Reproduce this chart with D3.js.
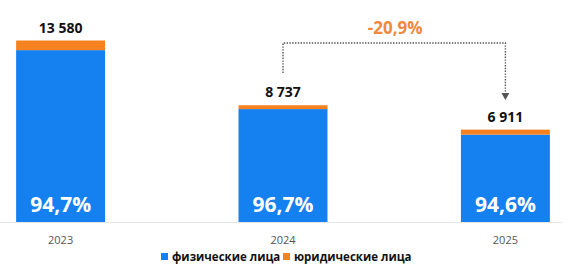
<!DOCTYPE html>
<html>
<head>
<meta charset="utf-8">
<script src="https://cdn.jsdelivr.net/npm/d3@7"></script>
<style>
  body { margin: 0; background: #fff; }
  svg { font-family: "Open Sans", sans-serif; }
</style>
</head>
<body>
<svg id="chart"></svg>
<script>
var years = ["2023", "2024", "2025"];
var totals = [13580, 8737, 6911];
var physShare = [94.7, 96.7, 94.6];
var totalLabels = ["13 580", "8 737", "6 911"];
var shareLabels = ["94,7%", "96,7%", "94,6%"];
var seriesNames = ["физические лица", "юридические лица"];
var changeLabel = "-20,9%";

var blue = "#1580f0";
var orange = "#f5821f";

var width = 571, height = 272;
var baseY = 222;

var svg = d3.select("#chart")
  .attr("width", width)
  .attr("height", height);

var x = d3.scaleBand()
  .domain(years)
  .range([5, 561])
  .paddingInner(0.6)
  .paddingOuter(0.05);

var y = d3.scaleLinear()
  .domain([0, 13580])
  .range([baseY, 40.5]);

var data = years.map(function(yr, i) {
  var phys = totals[i] * physShare[i] / 100;
  return { year: yr, total: totals[i], phys: phys, jur: totals[i] - phys,
           totalLabel: totalLabels[i], shareLabel: shareLabels[i] };
});

// baseline
svg.append("line")
  .attr("x1", 0).attr("x2", 562)
  .attr("y1", baseY + 0.5).attr("y2", baseY + 0.5)
  .attr("stroke", "#e6e6e6");

// physical persons
svg.selectAll(".bar-phys")
  .data(data)
  .enter().append("rect")
  .attr("class", "bar-phys")
  .attr("x", function(d) { return x(d.year); })
  .attr("width", x.bandwidth())
  .attr("y", function(d) { return y(d.phys); })
  .attr("height", function(d) { return baseY - y(d.phys); })
  .attr("fill", blue);

// legal entities
svg.selectAll(".bar-jur")
  .data(data)
  .enter().append("rect")
  .attr("class", "bar-jur")
  .attr("x", function(d) { return x(d.year); })
  .attr("width", x.bandwidth())
  .attr("y", function(d) { return y(d.total); })
  .attr("height", function(d) { return y(d.phys) - y(d.total); })
  .attr("fill", orange);

// totals above bars
svg.selectAll(".total")
  .data(data)
  .enter().append("text")
  .attr("class", "total")
  .attr("x", function(d) { return x(d.year) + x.bandwidth() / 2; })
  .attr("y", function(d) { return y(d.total) - 8; })
  .attr("text-anchor", "middle")
  .attr("font-size", 14)
  .attr("font-weight", "bold")
  .attr("fill", "#111")
  .text(function(d) { return d.totalLabel; });

// share inside bars
svg.selectAll(".share")
  .data(data)
  .enter().append("text")
  .attr("class", "share")
  .attr("x", function(d) { return x(d.year) + x.bandwidth() / 2; })
  .attr("y", 212)
  .attr("text-anchor", "middle")
  .attr("font-size", 21)
  .attr("font-weight", "bold")
  .attr("fill", "#fff")
  .text(function(d) { return d.shareLabel; });

// year axis
var xAxis = d3.axisBottom(x).tickSize(0).tickPadding(14);
var ax = svg.append("g")
  .attr("transform", "translate(0," + baseY + ")")
  .call(xAxis);
ax.select(".domain").remove();
ax.selectAll("text")
  .attr("font-family", "Open Sans, sans-serif")
  .attr("font-size", 11)
  .attr("fill", "#555");

// change arrow 2024 -> 2025
var x1 = x("2024") + x.bandwidth() / 2;
var x2 = x("2025") + x.bandwidth() / 2;
var topY = 43;
svg.append("path")
  .attr("d", "M" + x1 + "," + 73 + "V" + topY + "H" + x2 + "V" + 94)
  .attr("fill", "none")
  .attr("stroke", "#555")
  .attr("stroke-width", 1.4)
  .attr("stroke-dasharray", "1.4,1.4");
svg.append("path")
  .attr("d", "M" + (x2 - 4) + ",93 L" + (x2 + 4) + ",93 L" + x2 + ",100 Z")
  .attr("fill", "#555");
svg.append("text")
  .attr("x", (x1 + x2) / 2 + 1)
  .attr("y", 34)
  .attr("text-anchor", "middle")
  .attr("font-size", 17)
  .attr("font-weight", "bold")
  .attr("fill", "#f0883e")
  .text(changeLabel);

// legend
var legend = svg.append("g").attr("transform", "translate(161,257)");
var legX = [0, 122];
seriesNames.forEach(function(name, i) {
  var g = legend.append("g").attr("transform", "translate(" + legX[i] + ",0)");
  g.append("rect")
    .attr("x", 0).attr("y", -4)
    .attr("width", 7).attr("height", 7)
    .attr("fill", i === 0 ? blue : orange);
  g.append("text")
    .attr("x", 11).attr("y", 4)
    .attr("font-size", 11.5)
    .attr("font-weight", "bold")
    .attr("fill", "#111")
    .text(name);
});
</script>
</body>
</html>
